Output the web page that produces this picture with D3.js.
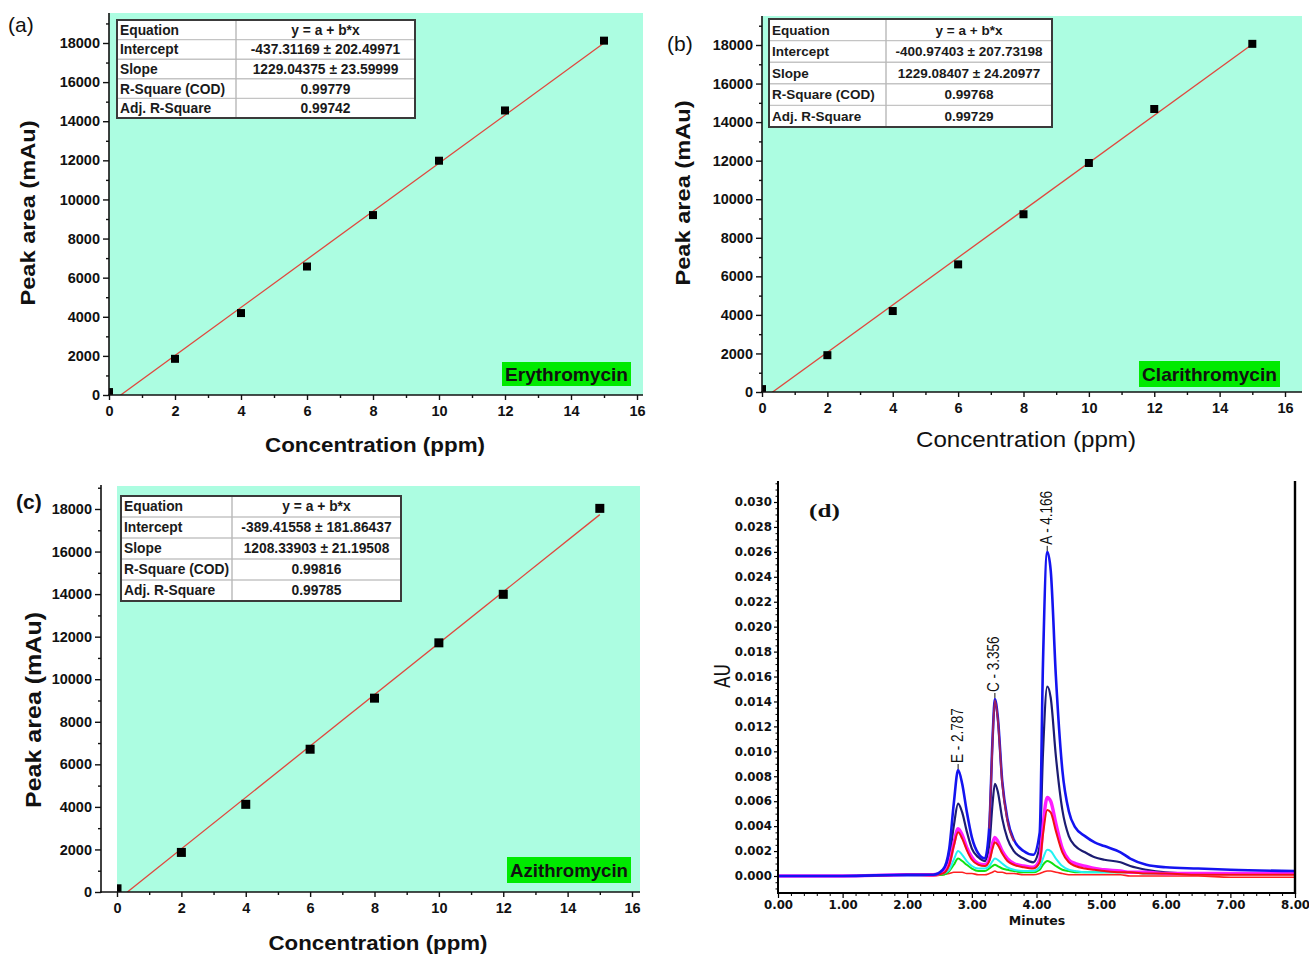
<!DOCTYPE html>
<html>
<head>
<meta charset="utf-8">
<script src="https://cdn.jsdelivr.net/npm/d3@7"></script>
<style>
  body { margin: 0; background: #fff; }
  svg { display: block; }
</style>
</head>
<body>
<svg id="fig" width="1309" height="959"></svg>
<script>
// ---------- calibration data ----------
const concentration = [0, 2, 4, 6, 8, 10, 12, 15];
const erythroArea   = [150, 1850, 4190, 6570, 9200, 11980, 14550, 18120];
const clarithroArea = [150, 1910, 4200, 6620, 9220, 11880, 14680, 18060];
const azithroArea   = [150, 1860, 4120, 6710, 9110, 11710, 13990, 18030];
const fitIntercept  = [-437.31169, -400.97403, -389.41558];
const fitSlope      = [1229.04375, 1229.08407, 1208.33903];
const tableLabels   = ["Equation", "Intercept", "Slope", "R-Square (COD)", "Adj. R-Square"];
const erythroTable  = ["y = a + b*x", "-437.31169 \u00b1 202.49971", "1229.04375 \u00b1 23.59999", "0.99779", "0.99742"];
const clarithroTable = ["y = a + b*x", "-400.97403 \u00b1 207.73198", "1229.08407 \u00b1 24.20977", "0.99768", "0.99729"];
const azithroTable  = ["y = a + b*x", "-389.41558 \u00b1 181.86437", "1208.33903 \u00b1 21.19508", "0.99816", "0.99785"];
const drugNames     = ["Erythromycin", "Clarithromycin", "Azithromycin"];
const panelTags     = ["(a)", "(b)", "(c)", "(d)"];
const areaTicks     = [0, 2000, 4000, 6000, 8000, 10000, 12000, 14000, 16000, 18000];
const areaMinor     = [1000, 3000, 5000, 7000, 9000, 11000, 13000, 15000, 17000, 19000];
const concTicks     = [0, 2, 4, 6, 8, 10, 12, 14, 16];
const concMinor     = [1, 3, 5, 7, 9, 11, 13, 15];

// ---------- chromatogram data (minutes, AU) ----------
const retentionTime = [0, 1.0, 2.0, 2.4, 2.55, 2.65, 2.72, 2.787, 2.85, 2.92, 3.0, 3.1, 3.2, 3.27, 3.32, 3.356, 3.4, 3.47, 3.55, 3.65, 3.8, 3.95, 4.05, 4.1, 4.166, 4.22, 4.3, 4.4, 4.5, 4.6, 4.75, 4.9, 5.05, 5.3, 5.45, 5.7, 6.0, 6.5, 7.0, 8.0];
const traceBlue    = [0, 0, 0.0001, 0.0001, 0.0005, 0.0022, 0.0058, 0.0085, 0.0074, 0.0052, 0.0031, 0.0018, 0.0014, 0.0040, 0.0110, 0.0142, 0.0128, 0.0076, 0.0046, 0.0029, 0.0020, 0.0017, 0.0035, 0.0170, 0.0260, 0.0245, 0.0160, 0.0085, 0.0052, 0.0039, 0.0032, 0.0027, 0.0024, 0.0019, 0.0014, 0.0009, 0.0007, 0.0006, 0.0005, 0.0004];
const traceNavy    = [0, 0, 0.0001, 0.0001, 0.0004, 0.0015, 0.0040, 0.0058, 0.0051, 0.0036, 0.0022, 0.0015, 0.0012, 0.0025, 0.0058, 0.0074, 0.0068, 0.0046, 0.0030, 0.0020, 0.0014, 0.0011, 0.0024, 0.0098, 0.0152, 0.0143, 0.0096, 0.0053, 0.0032, 0.0024, 0.0019, 0.0015, 0.0013, 0.0011, 0.0008, 0.0005, 0.0003, 0.0002, 0.0002, 0.0002];
const traceMagenta = [0, 0, 0.0001, 0.0001, 0.0003, 0.0010, 0.0026, 0.0038, 0.0033, 0.0023, 0.0015, 0.0010, 0.0009, 0.0014, 0.0026, 0.0031, 0.0028, 0.0020, 0.0014, 0.0010, 0.0008, 0.0007, 0.0013, 0.0040, 0.0063, 0.0060, 0.0042, 0.0022, 0.0013, 0.0010, 0.0008, 0.0006, 0.0005, 0.0004, 0.0003, 0.0003, 0.0002, 0.0002, 0.0002, 0.0002];
const traceRed     = [0, 0, 0.0001, 0.0001, 0.0002, 0.0009, 0.0024, 0.0035, 0.0030, 0.0021, 0.0013, 0.0009, 0.0008, 0.0012, 0.0022, 0.0027, 0.0025, 0.0018, 0.0012, 0.0009, 0.0007, 0.0006, 0.0011, 0.0033, 0.0053, 0.0051, 0.0036, 0.0019, 0.0011, 0.0008, 0.0006, 0.0005, 0.0004, 0.0003, 0.0003, 0.0002, 0.0002, 0.0001, 0.0001, 0.0001];
const traceCyan    = [0, 0, 0, 0.0001, 0.0002, 0.0005, 0.0013, 0.0020, 0.0017, 0.0012, 0.0008, 0.0006, 0.0006, 0.0008, 0.0012, 0.0014, 0.0013, 0.0010, 0.0007, 0.0005, 0.0004, 0.0004, 0.0007, 0.0014, 0.0021, 0.0020, 0.0014, 0.0008, 0.0005, 0.0004, 0.0003, 0.0003, 0.0003, 0.0003, 0.0003, 0.0002, 0.0002, 0.0002, 0.0002, 0.0002];
const traceGreen   = [0, 0, 0, 0.0001, 0.0001, 0.0004, 0.0009, 0.0014, 0.0012, 0.0009, 0.0006, 0.0004, 0.0004, 0.0006, 0.0008, 0.0009, 0.0008, 0.0006, 0.0005, 0.0004, 0.0003, 0.0003, 0.0005, 0.0009, 0.0012, 0.0011, 0.0008, 0.0005, 0.0004, 0.0003, 0.0003, 0.0003, 0.0003, 0.0003, 0.0003, 0.0003, 0.0002, 0.0002, 0.0002, 0.0002];
const traceBlank   = [0, 0, 0, 0, 0.0001, 0.0002, 0.0003, 0.0003, 0.0003, 0.0002, 0.0002, 0.0001, 0.0001, 0.0002, 0.0003, 0.0004, 0.0003, 0.0003, 0.0002, 0.0002, 0.0001, 0.0001, 0.0002, 0.0003, 0.0004, 0.0004, 0.0003, 0.0002, 0.0001, 0.0001, 0.0001, 0.0001, 0.0001, 0.0001, 0, 0, 0, 0, -0.0001, -0.0001];
const plumTime     = [3.27, 3.32, 3.356, 3.4, 3.47, 3.55, 3.65];
const tracePlum    = [0.0038, 0.0108, 0.0141, 0.0126, 0.0074, 0.0044, 0.0028];
const peakNames    = ["E - 2.787", "C - 3.356", "A - 4.166"];
const peakTimes    = [2.787, 3.356, 4.166];
const peakHeights  = [0.0085, 0.0142, 0.0260];
const auTicks      = [0, 0.002, 0.004, 0.006, 0.008, 0.010, 0.012, 0.014, 0.016, 0.018, 0.020, 0.022, 0.024, 0.026, 0.028, 0.030];
const minuteTicks  = [0, 1, 2, 3, 4, 5, 6, 7, 8];

const SANS = "'Liberation Sans', Arial, sans-serif";
const svg = d3.select("#fig");
svg.append("rect").attr("width", 1309).attr("height", 959).attr("fill", "#fff");

// ---------- calibration panels ----------
const calibLayouts = [
  { xr: [109, 637], yr: [395, 43], plot: [109, 13, 643, 395], yAxisX: 109, axisTop: 13,
    tag: [8, 32, 21, "normal"], yTitle: [35, 213, 21, "bold", 185], xTitle: [375, 452, 21, "bold", 220],
    table: [117, 20, 298, 119, 19.6, 13.8], box: [502, 362, 129, 24, 19], mark: 8 },
  { xr: [762, 1285], yr: [392, 45], plot: [762, 16, 1302, 392], yAxisX: 762, axisTop: 16,
    tag: [667, 51, 21, "normal"], yTitle: [690, 193, 21, "bold", 185], xTitle: [1026, 447, 22, "normal", 220],
    table: [769, 19, 283, 117, 21.6, 13.5], box: [1139, 361, 141, 26, 19], mark: 8 },
  { xr: [117, 632], yr: [892, 509], plot: [117, 486, 640, 892], yAxisX: 101, axisTop: 485,
    tag: [16, 509, 21, "bold"], yTitle: [41, 710, 22, "bold", 196], xTitle: [378, 950, 21, "bold", 219],
    table: [121, 496, 280, 111, 21, 13.8], box: [507, 857, 124, 26, 19], mark: 9 }
];
const calibSeries = [erythroArea, clarithroArea, azithroArea];
const calibTables = [erythroTable, clarithroTable, azithroTable];

function styleTickText(sel, size) {
  sel.selectAll("text").attr("font-family", SANS).attr("font-size", size)
    .attr("font-weight", "bold").attr("fill", "#111");
  sel.selectAll("line").attr("stroke", "#111").attr("stroke-width", 1.4);
  sel.select(".domain").remove();
}

calibLayouts.forEach((L, i) => {
  const g = svg.append("g");
  const x = d3.scaleLinear().domain([0, 16]).range(L.xr);
  const y = d3.scaleLinear().domain([0, 18000]).range(L.yr);
  const [px0, py0, px1, py1] = L.plot;
  const clipId = "clip" + i;
  svg.append("clipPath").attr("id", clipId).append("rect")
    .attr("x", px0).attr("y", py0).attr("width", px1 - px0).attr("height", py1 - py0);

  g.append("rect").attr("x", px0).attr("y", py0).attr("width", px1 - px0).attr("height", py1 - py0)
    .attr("fill", "#acfde1");

  // linear fit
  const fit = c => fitIntercept[i] + fitSlope[i] * c;
  g.append("line").attr("clip-path", `url(#${clipId})`)
    .attr("x1", x(0)).attr("y1", y(fit(0))).attr("x2", x(15)).attr("y2", y(fit(15)))
    .attr("stroke", "#e0483e").attr("stroke-width", 1.3);

  // measured points
  const m = L.mark;
  g.append("g").attr("clip-path", `url(#${clipId})`).selectAll("rect")
    .data(concentration.map((c, k) => [c, calibSeries[i][k]]))
    .join("rect")
    .attr("x", d => x(d[0]) - m / 2).attr("y", d => y(d[1]) - m / 2)
    .attr("width", m).attr("height", m).attr("fill", "#000");

  // axes
  const axisY = L.yr[0];
  g.append("line").attr("x1", L.yAxisX).attr("x2", L.yAxisX).attr("y1", L.axisTop).attr("y2", axisY + 1)
    .attr("stroke", "#111").attr("stroke-width", 1.6);
  g.append("line").attr("x1", L.yAxisX - 1).attr("x2", px1).attr("y1", axisY).attr("y2", axisY)
    .attr("stroke", "#111").attr("stroke-width", 1.6);

  const ya = g.append("g").attr("transform", `translate(${L.yAxisX},0)`)
    .call(d3.axisLeft(y).tickValues(areaTicks).tickSize(6).tickPadding(3).tickFormat(d3.format("d")));
  styleTickText(ya, 14.5);
  const yMinor = g.append("g").attr("transform", `translate(${L.yAxisX},0)`)
    .call(d3.axisLeft(y).tickValues(areaMinor).tickSize(3).tickFormat(""));
  styleTickText(yMinor, 0);

  const xa = g.append("g").attr("transform", `translate(0,${axisY})`)
    .call(d3.axisBottom(x).tickValues(concTicks).tickSize(5).tickPadding(6).tickFormat(d3.format("d")));
  styleTickText(xa, 14.5);
  const xMinor = g.append("g").attr("transform", `translate(0,${axisY})`)
    .call(d3.axisBottom(x).tickValues(concMinor).tickSize(3).tickFormat(""));
  styleTickText(xMinor, 0);

  // titles
  g.append("text").attr("transform", `translate(${L.yTitle[0]},${L.yTitle[1]}) rotate(-90)`)
    .attr("text-anchor", "middle").attr("font-family", SANS).attr("font-size", L.yTitle[2])
    .attr("font-weight", L.yTitle[3]).attr("fill", "#111")
    .attr("textLength", L.yTitle[4]).attr("lengthAdjust", "spacingAndGlyphs").text("Peak area (mAu)");
  g.append("text").attr("x", L.xTitle[0]).attr("y", L.xTitle[1])
    .attr("text-anchor", "middle").attr("font-family", SANS).attr("font-size", L.xTitle[2])
    .attr("font-weight", L.xTitle[3]).attr("fill", "#111")
    .attr("textLength", L.xTitle[4]).attr("lengthAdjust", "spacingAndGlyphs").text("Concentration (ppm)");
  g.append("text").attr("x", L.tag[0]).attr("y", L.tag[1]).attr("font-family", SANS)
    .attr("font-size", L.tag[2]).attr("font-weight", L.tag[3]).attr("fill", "#111").text(panelTags[i]);

  // fit statistics table
  const [tx, ty, tw, c1, rh, fs] = L.table;
  const th = rh * tableLabels.length;
  const tg = g.append("g");
  tg.append("rect").attr("x", tx).attr("y", ty).attr("width", tw).attr("height", th).attr("fill", "#fff");
  tableLabels.forEach((lab, r) => {
    if (r > 0) tg.append("line").attr("x1", tx).attr("x2", tx + tw)
      .attr("y1", ty + r * rh).attr("y2", ty + r * rh).attr("stroke", "#c4c4c4").attr("stroke-width", 1.4);
    tg.append("text").attr("x", tx + 3).attr("y", ty + (r + 0.5) * rh).attr("dy", "0.36em")
      .attr("font-family", SANS).attr("font-size", fs).attr("font-weight", "bold").attr("fill", "#1a1a1a").text(lab);
    tg.append("text").attr("x", tx + c1 + (tw - c1) / 2).attr("y", ty + (r + 0.5) * rh).attr("dy", "0.36em")
      .attr("text-anchor", "middle").attr("font-family", SANS).attr("font-size", fs)
      .attr("font-weight", "bold").attr("fill", "#1a1a1a").text(calibTables[i][r]);
  });
  tg.append("line").attr("x1", tx + c1).attr("x2", tx + c1).attr("y1", ty).attr("y2", ty + th)
    .attr("stroke", "#b8b8b8").attr("stroke-width", 1.4);
  tg.append("rect").attr("x", tx).attr("y", ty).attr("width", tw).attr("height", th)
    .attr("fill", "none").attr("stroke", "#3a3a3a").attr("stroke-width", 2);

  // compound label
  const [bx, by, bw, bh, bf] = L.box;
  g.append("rect").attr("x", bx).attr("y", by).attr("width", bw).attr("height", bh).attr("fill", "#00ea00");
  g.append("text").attr("x", bx + bw / 2).attr("y", by + bh / 2).attr("dy", "0.36em")
    .attr("text-anchor", "middle").attr("font-family", SANS).attr("font-size", bf)
    .attr("font-weight", "bold").attr("fill", "#111")
    .attr("textLength", bw - 6).attr("lengthAdjust", "spacingAndGlyphs").text(drugNames[i]);
});

// ---------- chromatogram panel ----------
(function () {
  const g = svg.append("g");
  const x = d3.scaleLinear().domain([0, 8]).range([778, 1295]);
  const y = d3.scaleLinear().domain([0, 0.030]).range([876, 502]);
  const top = 481, bottom = 893;
  const WIDE = "'DejaVu Sans', Verdana, sans-serif";

  svg.append("clipPath").attr("id", "clipD").append("rect")
    .attr("x", 778).attr("y", top).attr("width", 1295 - 778).attr("height", bottom - top);

  const line = d3.line().x(d => x(d[0])).y(d => y(d[1])).curve(d3.curveMonotoneX);
  const pair = (t, v) => t.map((tt, k) => [tt, v[k]]);
  const traces = [
    { v: traceBlank, c: "#ff2020", w: 1.6 },
    { v: traceGreen, c: "#12e012", w: 2.0 },
    { v: traceCyan, c: "#22f2f2", w: 2.0 },
    { v: traceNavy, c: "#1c1c72", w: 2.2 },
    { v: traceMagenta, c: "#ff1cff", w: 3.4 },
    { v: traceRed, c: "#f21212", w: 2.0 },
    { v: traceBlue, c: "#1414f0", w: 2.6 }
  ];
  const tg = g.append("g").attr("clip-path", "url(#clipD)");
  traces.forEach(tr => {
    tg.append("path").attr("d", line(pair(retentionTime, tr.v)))
      .attr("fill", "none").attr("stroke", tr.c).attr("stroke-width", tr.w)
      .attr("stroke-linejoin", "round");
  });
  tg.append("path").attr("d", line(pair(plumTime, tracePlum)))
    .attr("fill", "none").attr("stroke", "#9a2060").attr("stroke-width", 2);

  // frame
  g.append("line").attr("x1", 778).attr("x2", 778).attr("y1", top).attr("y2", bottom + 1)
    .attr("stroke", "#000").attr("stroke-width", 2);
  g.append("line").attr("x1", 777).attr("x2", 1296).attr("y1", bottom).attr("y2", bottom)
    .attr("stroke", "#000").attr("stroke-width", 2);
  g.append("line").attr("x1", 1295).attr("x2", 1295).attr("y1", top).attr("y2", bottom + 1)
    .attr("stroke", "#000").attr("stroke-width", 2.4);

  // y ticks
  const yMaj = g.append("g").attr("transform", "translate(778,0)")
    .call(d3.axisLeft(y).tickValues(auTicks).tickSize(4).tickPadding(2).tickFormat(d3.format(".3f")));
  yMaj.select(".domain").remove();
  yMaj.selectAll("line").attr("stroke", "#000").attr("stroke-width", 1.2);
  yMaj.selectAll("text").attr("font-family", WIDE).attr("font-size", 11.8)
    .attr("font-weight", "bold").attr("fill", "#111");
  const yMin = g.append("g").attr("transform", "translate(778,0)")
    .call(d3.axisLeft(y).tickValues(d3.range(-2, 64).map(k => k * 0.0005).filter(v => auTicks.indexOf(+v.toFixed(4)) < 0 && y(v) < bottom && y(v) > top)).tickSize(2.5).tickFormat(""));
  yMin.select(".domain").remove();
  yMin.selectAll("line").attr("stroke", "#000").attr("stroke-width", 1);

  // x ticks
  const xMaj = g.append("g").attr("transform", `translate(0,${bottom})`)
    .call(d3.axisBottom(x).tickValues(minuteTicks).tickSize(5).tickPadding(3).tickFormat(d3.format(".2f")));
  xMaj.select(".domain").remove();
  xMaj.selectAll("line").attr("stroke", "#000").attr("stroke-width", 1.2);
  xMaj.selectAll("text").attr("font-family", WIDE).attr("font-size", 11.8)
    .attr("font-weight", "bold").attr("fill", "#111");
  const xMin = g.append("g").attr("transform", `translate(0,${bottom})`)
    .call(d3.axisBottom(x).tickValues(d3.range(0, 41).map(k => k * 0.2).filter(v => Math.abs(v - Math.round(v)) > 1e-6)).tickSize(3).tickFormat(""));
  xMin.select(".domain").remove();
  xMin.selectAll("line").attr("stroke", "#000").attr("stroke-width", 1);

  // titles
  g.append("text").attr("x", 1037).attr("y", 925).attr("text-anchor", "middle")
    .attr("font-family", WIDE).attr("font-size", 12.5).attr("font-weight", "bold").attr("fill", "#111").text("Minutes");
  g.append("text").attr("transform", "translate(730,676) scale(1.2,1) rotate(-90)").attr("text-anchor", "middle")
    .attr("font-family", WIDE).attr("font-size", 17).attr("fill", "#111").text("AU");
  g.append("text").attr("transform", "translate(809,517) scale(1.4,1)")
    .attr("font-family", "'Liberation Serif', 'Times New Roman', serif").attr("font-size", 18)
    .attr("font-weight", "bold").attr("fill", "#111").text(panelTags[3]);

  // peak annotations
  peakNames.forEach((name, k) => {
    const px = x(peakTimes[k]), py = y(peakHeights[k]);
    g.append("line").attr("x1", px).attr("x2", px).attr("y1", py - 1).attr("y2", py - 6)
      .attr("stroke", "#111").attr("stroke-width", 1);
    g.append("text").attr("transform", `translate(${px + 4.5},${py - 7}) scale(1.25,1) rotate(-90)`)
      .attr("font-family", SANS).attr("font-size", 13.5).attr("fill", "#111").text(name);
  });
})();
</script>
</body>
</html>
